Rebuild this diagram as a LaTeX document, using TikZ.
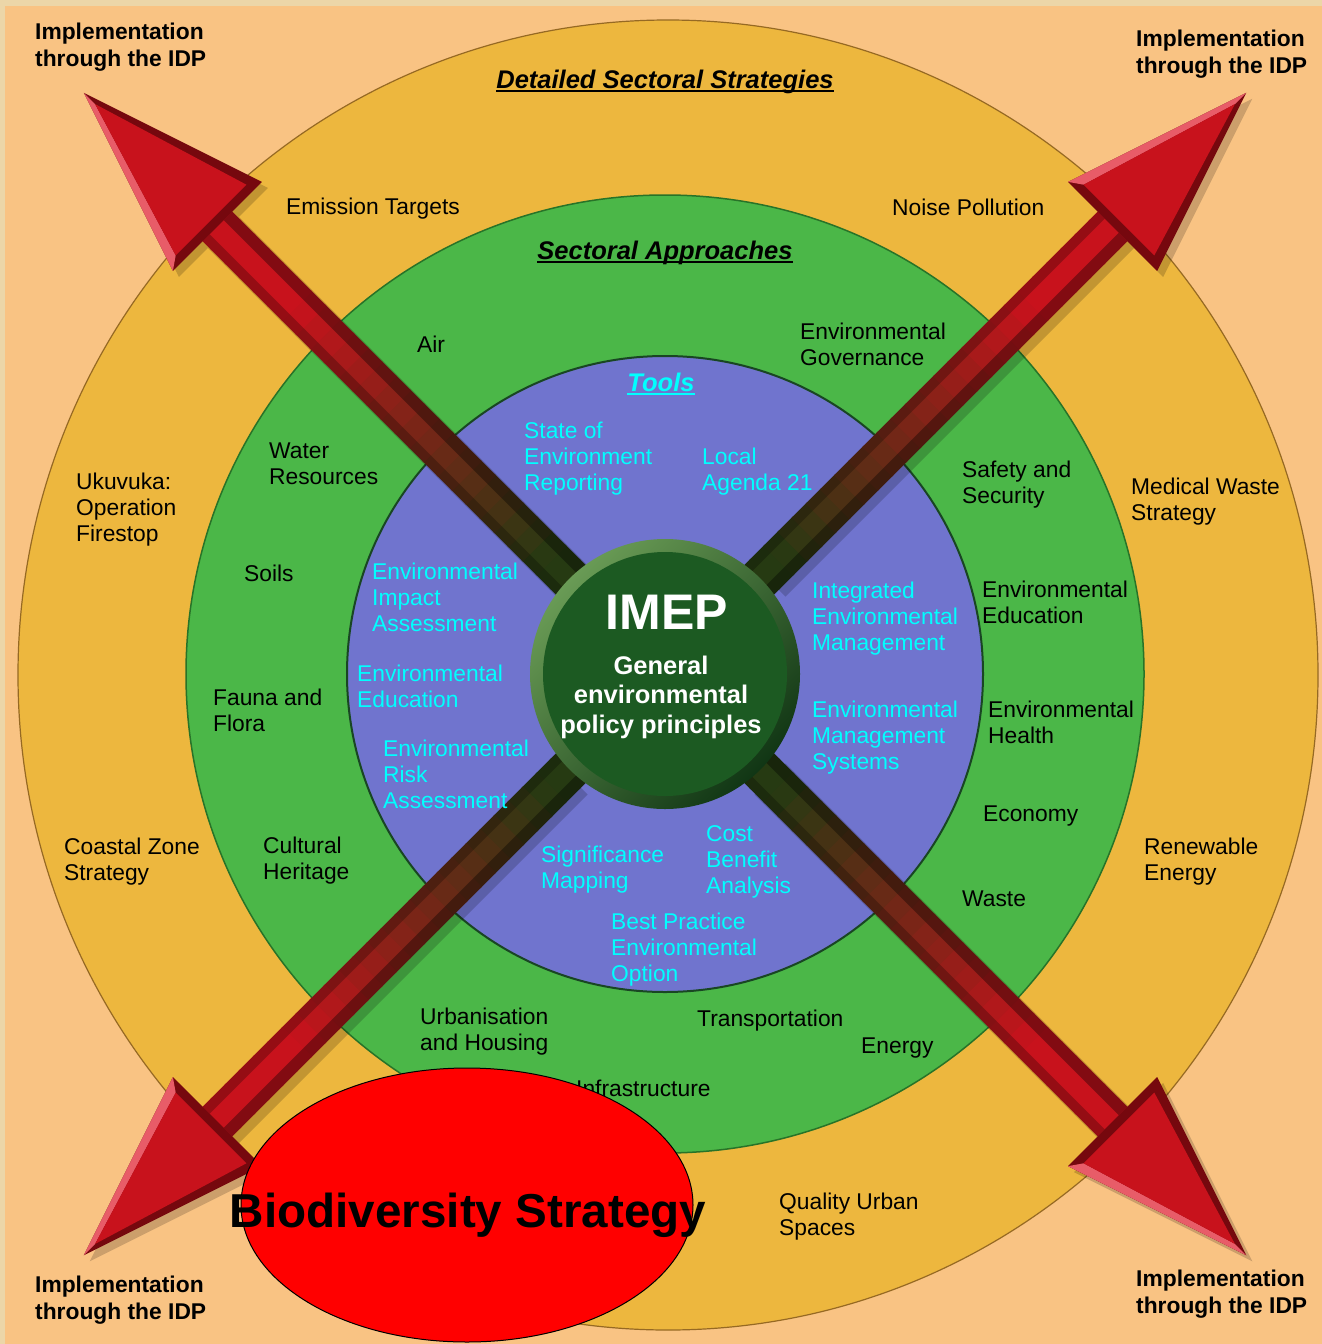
\documentclass[tikz,border=0pt]{standalone}
\usepackage{fontspec}
\setmainfont{Liberation Sans}
\usetikzlibrary{shapes.geometric}
\definecolor{pagebg}{RGB}{236,214,168}
\definecolor{peach}{RGB}{249,195,131}
\definecolor{ochre}{RGB}{237,183,62}
\definecolor{ochreedge}{RGB}{150,105,35}
\definecolor{ringgreen}{RGB}{75,183,72}
\definecolor{greenedge}{RGB}{40,115,40}
\definecolor{toolblue}{RGB}{112,116,206}
\definecolor{blueedge}{RGB}{25,70,35}
\definecolor{toolcyan}{RGB}{0,255,255}
\definecolor{imepgreen}{RGB}{28,90,34}
\definecolor{imeprim}{RGB}{105,155,85}
\definecolor{arrowred}{RGB}{200,18,28}
\definecolor{arrowdark}{RGB}{118,8,14}
\definecolor{arrowpink}{RGB}{232,92,104}
\definecolor{shaftdark}{RGB}{38,58,18}
\newcommand{\snode}[3]{\node(#1)[sector] at (#2) {#3}}
\newcommand{\tnode}[3]{\node(#1)[tool] at (#2) {#3}}
\newcommand{\cnode}[3]{\node(#1)[corner] at (#2) {#3}}
\newcommand{\ttl}[1]{\setbox0=\hbox{#1}\rlap{\rule[-3.5pt]{\wd0}{2.2pt}}\box0}
\newcommand{\idparrow}[3]{%
  \begin{scope}[shift={(hub)}, shift={(6,6)}, rotate=#2]
    \fill[black, opacity=0.18] (140,-22) -- (633,-22) -- (633,-63) -- (822,0) -- (633,63) -- (633,22) -- (140,22) -- cycle;
  \end{scope}
  \begin{scope}[shift={(hub)}, rotate=#2, yscale=#3]
    \foreach \rr in {0,20,...,620}{
      \pgfmathtruncatemacro{\p}{min(100,max(0,(\rr-150)/3.6))}
      \fill[arrowred!\p!shaftdark] (\rr,-21) -- (\rr+22,-21) -- (\rr+22,21) -- (\rr,21) -- cycle;
    }
    \fill[black, opacity=0.35] (0,9) -- (633,9) -- (633,21) -- (0,21) -- cycle;
    \fill[black, opacity=0.25] (0,-21) -- (633,-21) -- (633,-11) -- (0,-11) -- cycle;
    \fill[arrowdark] (633,-63) -- (822,0) -- (633,63) -- cycle;
    \fill[arrowpink] (633,-63) -- (822,0) -- (806,0) -- (642,-50) -- cycle;
    \fill[arrowred] (642,-50) -- (806,0) -- (642,50) -- cycle;
    \coordinate (#1) at (822,0);
  \end{scope}}

\begin{document}
\begin{tikzpicture}[
        x=1pt, y=-1pt,
        every node/.style={inner sep=0pt, yshift=-3pt},
        sector/.style={anchor=west, align=left, font=\fontsize{22.8}{26}\selectfont},
        tool/.style={sector, text=toolcyan},
        corner/.style={sector, font=\fontsize{22.8}{26.5}\selectfont\bfseries},
        ringtitle/.style={font=\fontsize{25.5}{30}\selectfont\bfseries\itshape},
        biostrat/.style={ellipse, draw=black, line width=1pt, fill=red,
                         minimum width=452pt, minimum height=274pt}
      ]
      \useasboundingbox (0,0) rectangle (1322,1344);
      \clip (0,0) rectangle (1322,1344);
      \coordinate (hub) at (665,671);
      \coordinate (ringc) at (668,672);
      \fill[pagebg] (0,0) rectangle (1322,1344);
      \fill[peach] (5,6) rectangle (1322,1344);

      \filldraw[fill=ochre, draw=ochreedge, line width=1.2pt] (ringc) ellipse[x radius=650pt, y radius=655pt];
      \filldraw[fill=ringgreen, draw=greenedge, line width=1.5pt] (hub) circle[radius=479pt];
      \filldraw[fill=toolblue, draw=blueedge, line width=2pt] (hub) circle[radius=318pt];

      \idparrow{tipnw}{135}{1}
      \idparrow{tipne}{45}{1}
      \idparrow{tipse}{-45}{-1}
      \idparrow{tipsw}{-135}{-1}

      \shade[top color=imeprim, bottom color=imepgreen!60!black, shading angle=45] (hub) circle[radius=135pt];
      \fill[imepgreen] (hub) circle[radius=122pt];
      \node(imep)[font=\fontsize{50}{56}\selectfont\bfseries, text=white] at (667,609) {IMEP};
      \node(gepp)[align=center, font=\fontsize{25.5}{29.5}\selectfont\bfseries, text=white] at (661,694)
        {General\\environmental\\policy principles};

      \cnode{idpnw}{35,44}{Implementation\\through the IDP};
      \cnode{idpne}{1136,51}{Implementation\\through the IDP};
      \cnode{idpsw}{35,1297}{Implementation\\through the IDP};
      \cnode{idpse}{1136,1291}{Implementation\\through the IDP};

      \node(dss)[ringtitle] at (665,79) {\ttl{Detailed Sectoral Strategies}};
      \node(sap)[ringtitle] at (665,250) {\ttl{Sectoral Approaches}};
      \node(tools)[ringtitle, text=toolcyan] at (661,381) {\ttl{Tools}};

      \snode{emis}{286,206}{Emission Targets};
      \snode{noise}{892,204}{Noise Pollution};
      \snode{ukuv}{76,507}{Ukuvuka:\\Operation\\Firestop};
      \snode{medw}{1131,499}{Medical Waste\\Strategy};
      \snode{coast}{64,859}{Coastal Zone\\Strategy};
      \snode{renew}{1144,859}{Renewable\\Energy};
      \snode{qual}{779,1214}{Quality Urban\\Spaces};

      \snode{air}{417,341}{Air};
      \snode{gov}{800,341}{Environmental\\Governance};
      \snode{water}{269,461}{Water\\Resources};
      \snode{safe}{962,482}{Safety and\\Security};
      \snode{soil}{244,570}{Soils};
      \snode{educ}{982,599}{Environmental\\Education};
      \snode{fauna}{213,707}{Fauna and\\Flora};
      \snode{health}{988,719}{Environmental\\Health};
      \snode{econ}{983,813}{Economy};
      \snode{cult}{263,858}{Cultural\\Heritage};
      \snode{waste}{962,896}{Waste};
      \snode{urban}{420,1029}{Urbanisation\\and Housing};
      \snode{transp}{697,1018}{Transportation};
      \snode{energy}{861,1045}{Energy};
      \snode{infra}{576,1085}{Infrastructure};

      \tnode{soe}{524,456}{State of\\Environment\\Reporting};
      \tnode{la21}{702,469}{Local\\Agenda 21};
      \tnode{eia}{372,594}{Environmental\\Impact\\Assessment};
      \tnode{iem}{812,616}{Integrated\\Environmental\\Management};
      \tnode{eed}{357,683}{Environmental\\Education};
      \tnode{ems}{812,735}{Environmental\\Management\\Systems};
      \tnode{era}{383,771}{Environmental\\Risk\\Assessment};
      \tnode{sigm}{541,867}{Significance\\Mapping};
      \tnode{cba}{706,859}{Cost\\Benefit\\Analysis};
      \tnode{bpeo}{611,947}{Best Practice\\Environmental\\Option};

      \node(bio)[biostrat, yshift=3pt] at (467,1205) {};
      \node(biotext)[font=\fontsize{47.6}{50}\selectfont\bfseries] at (468,1212) {Biodiversity Strategy};
    \end{tikzpicture}
\end{document}
